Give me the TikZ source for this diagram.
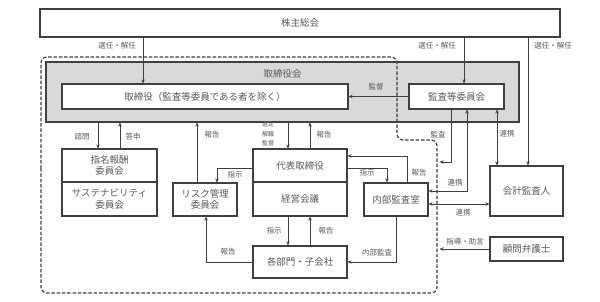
\documentclass[tikz,border=0pt]{standalone}
\usepackage{fontspec}
\newfontfamily\jp{Noto Sans CJK JP}
\usetikzlibrary{arrows.meta}
\definecolor{ln}{HTML}{404040}
\definecolor{tx}{HTML}{595959}
\definecolor{gf}{HTML}{D9D9D9}
\begin{document}
\begin{tikzpicture}[x=1pt,y=-1pt,
  box/.style={draw=ln, line width=1.1pt, fill=white, font=\jp\fontsize{9.5}{11.5}\selectfont, text=tx, inner sep=0pt, align=center},
  lbl/.style={font=\jp\fontsize{7.5}{9}\selectfont, text=tx, inner sep=0.5pt},
  slbl/.style={font=\jp\fontsize{6}{9.5}\selectfont, text=tx, inner sep=0.5pt, align=center},
  arr/.style={draw=ln, line width=0.9pt, -{Stealth[length=4pt,width=3.5pt]}},
  darr/.style={draw=ln, line width=0.9pt, {Stealth[length=4pt,width=3.5pt]}-{Stealth[length=4pt,width=3.5pt]}},
  dashline/.style={draw=ln, line width=1.2pt, dash pattern=on 3.5pt off 1.8pt, rounded corners=6pt}
]
\useasboundingbox[fill=white] (0,0) rectangle (600,302);

% board area (grey)
\node[draw=ln, line width=1.1pt, fill=gf, minimum width=473pt, minimum height=60pt, inner sep=0pt] (bod) at (282.5,92) {};
\node[font=\jp\fontsize{9.5}{11}\selectfont, text=tx] (bodlbl) at (282.5,74) {取締役会};

% dashed executive region
\draw[dashline] (41,175) -- (41,57) -- (397,57) -- (397,140) -- (437,140) -- (437,293) -- (41,293) -- cycle;

% nodes
\node[box, minimum width=520pt, minimum height=28pt] (sh) at (300,23) {株主総会};
\node[box, minimum width=286pt, minimum height=25pt] (dir) at (205,96.5) {取締役（監査等委員である者を除く）};
\node[box, minimum width=95pt, minimum height=25pt] (ac) at (456.5,96.5) {監査等委員会};
\node[box, minimum width=95pt, minimum height=33pt] (nom) at (109.5,165.5) {指名報酬\\委員会};
\node[box, minimum width=95pt, minimum height=34pt] (sus) at (109.5,199) {サステナビリティ\\委員会};
\node[box, minimum width=64pt, minimum height=33pt] (risk) at (205,199.5) {リスク管理\\委員会};
\node[box, minimum width=94pt, minimum height=33pt] (ceo) at (300,165.5) {代表取締役};
\node[box, minimum width=94pt, minimum height=34pt] (mgmt) at (300,199) {経営会議};
\node[box, minimum width=64pt, minimum height=33pt] (ia) at (396,199.5) {内部監査室};
\node[box, minimum width=94pt, minimum height=32pt] (dept) at (300,262) {各部門・子会社};
\node[box, minimum width=73pt, minimum height=50pt] (ext) at (526.5,191) {会計監査人};
\node[box, minimum width=73pt, minimum height=24pt] (law) at (526.5,249) {顧問弁護士};

\coordinate (auditend) at (439.5,162);
\coordinate (lawend) at (439.5,249);

% connectors
\draw[arr] (sh.south -| 143,0) -- (dir.north -| 143,0);
\draw[arr] (sh.south -| 464,0) -- (ac.north -| 464,0);
\draw[arr] (sh.south -| 528,0) -- (ext.north -| 528,0);
\draw[arr] (ac.west) -- (dir.east);
\draw[arr] (bod.south -| 98,0) -- (nom.north -| 98,0);
\draw[arr] (nom.north -| 120,0) -- (bod.south -| 120,0);
\draw[arr] (risk.north -| 197,0) -- (bod.south -| 197,0);
\draw[arr] (bod.south -| 288,0) -- (ceo.north -| 288,0);
\draw[arr] (ceo.north -| 310,0) -- (bod.south -| 310,0);
\draw[arr] (ceo.west |- 0,168) -| (risk.north -| 217,0);
\draw[arr] (dept.west) -| (risk.south -| 206,0);
\draw[arr] (mgmt.south -| 288,0) -- (dept.north -| 288,0);
\draw[arr] (dept.north -| 310,0) -- (mgmt.south -| 310,0);
\draw[arr] (ia.south) |- (dept.east);
\draw[arr] (ceo.east |- 0,168) -| (ia.north -| 387,0);
\draw[arr] (ia.north -| 407,0) |- (ceo.east |- 0,156);
\draw[arr] (ac.south -| 451,0) |- (auditend);
\draw[darr] (ia.east |- 0,191) -| (ac.south -| 467,0);
\draw[darr] (ia.east |- 0,204) -- (ext.west |- 0,204);
\draw[darr] (ac.south -| 497,0) -- (ext.north -| 497,0);
\draw[arr] (law.west) -- (lawend);

% labels
\node[lbl] at (117,46) {選任・解任};
\node[lbl] at (437,46) {選任・解任};
\node[lbl] at (553,46) {選任・解任};
\node[lbl] at (376,87) {監督};
\node[lbl] at (82,137) {諮問};
\node[lbl] at (133,137) {答申};
\node[lbl] at (212,135) {報告};
\node[slbl] at (268,134) {選定\\解職\\監督};
\node[lbl] at (324,135) {報告};
\node[lbl] at (438,135) {監査};
\node[lbl] at (507,134) {連携};
\node[lbl] at (235,175) {指示};
\node[lbl] at (367,173) {指示};
\node[lbl] at (419,173) {報告};
\node[lbl] at (455,183) {連携};
\node[lbl] at (463,213) {連携};
\node[lbl] at (465,242) {指導・助言};
\node[lbl] at (228,252) {報告};
\node[lbl] at (274,231) {指示};
\node[lbl] at (326,231) {報告};
\node[lbl] at (377,253) {内部監査};
\end{tikzpicture}
\end{document}
